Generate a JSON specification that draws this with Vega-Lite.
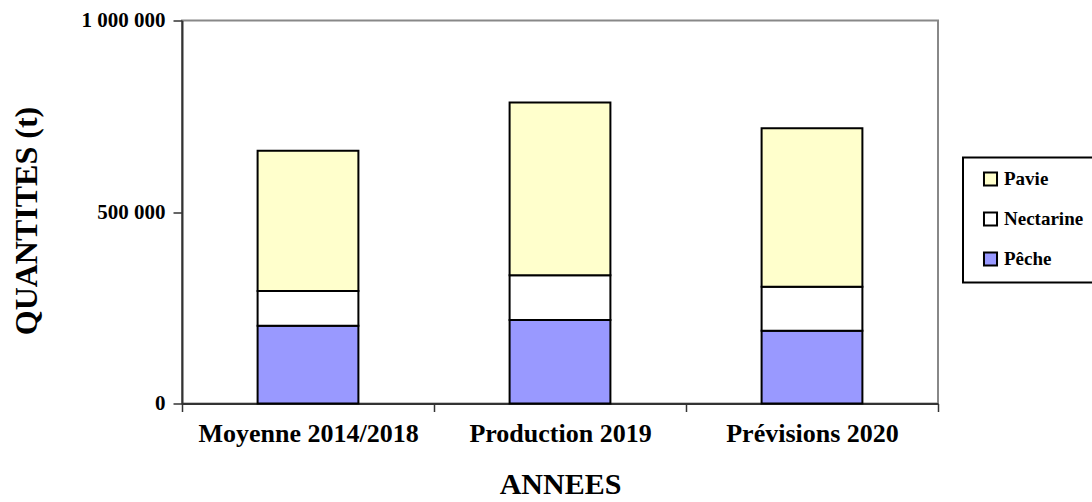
{
  "$schema": "https://vega.github.io/schema/vega-lite/v6.json",
  "width": 756,
  "height": 383,
  "autosize": "none",
  "padding": {"left": 182, "top": 20.5, "right": 154, "bottom": 98},
  "background": "white",
  "data": {
    "values": [
      {"annee": "Moyenne 2014/2018", "fruit": "Pêche", "quantite": 203000},
      {"annee": "Moyenne 2014/2018", "fruit": "Nectarine", "quantite": 90500},
      {"annee": "Moyenne 2014/2018", "fruit": "Pavie", "quantite": 366700},
      {"annee": "Production 2019", "fruit": "Pêche", "quantite": 217700},
      {"annee": "Production 2019", "fruit": "Nectarine", "quantite": 116900},
      {"annee": "Production 2019", "fruit": "Pavie", "quantite": 451100},
      {"annee": "Prévisions 2020", "fruit": "Pêche", "quantite": 189800},
      {"annee": "Prévisions 2020", "fruit": "Nectarine", "quantite": 115000},
      {"annee": "Prévisions 2020", "fruit": "Pavie", "quantite": 414000}
    ]
  },
  "transform": [
    {"calculate": "indexof(['Pêche','Nectarine','Pavie'], datum.fruit)", "as": "rang"}
  ],
  "mark": {"type": "bar", "width": {"band": 0.4}, "stroke": "black", "strokeWidth": 2},
  "encoding": {
    "x": {
      "field": "annee",
      "type": "nominal",
      "sort": ["Moyenne 2014/2018", "Production 2019", "Prévisions 2020"],
      "scale": {"paddingInner": 0, "paddingOuter": 0},
      "axis": {
        "title": "ANNEES",
        "labelAngle": 0,
        "tickBand": "extent",
        "tickSize": 8,
        "tickColor": "#333",
        "tickWidth": 1.5,
        "domainColor": "#333",
        "domainWidth": 2,
        "labelFont": "Liberation Serif",
        "labelFontWeight": "bold",
        "labelFontSize": 26,
        "labelColor": "black",
        "labelPadding": 9,
        "labelLimit": 400,
        "titleFont": "Liberation Serif",
        "titleFontWeight": "bold",
        "titleFontSize": 30,
        "titleColor": "black",
        "titlePadding": 23
      }
    },
    "y": {
      "field": "quantite",
      "type": "quantitative",
      "stack": "zero",
      "scale": {"domain": [0, 1000000], "nice": false},
      "axis": {
        "title": "QUANTITES (t)",
        "titleY": 200,
        "values": [0, 500000, 1000000],
        "labelExpr": "replace(format(datum.value, ','), regexp(',', 'g'), ' ')",
        "grid": false,
        "tickSize": 9,
        "tickColor": "#333",
        "tickWidth": 1.5,
        "domainColor": "#333",
        "domainWidth": 2,
        "labelFont": "Liberation Serif",
        "labelFontWeight": "bold",
        "labelFontSize": 21,
        "labelColor": "black",
        "labelPadding": 8,
        "titleFont": "Liberation Serif",
        "titleFontWeight": "bold",
        "titleFontSize": 32,
        "titleColor": "black",
        "titlePadding": 38
      }
    },
    "color": {
      "field": "fruit",
      "type": "nominal",
      "scale": {"domain": ["Pavie", "Nectarine", "Pêche"], "range": ["#FFFFCC", "#FFFFFF", "#9999FF"]},
      "legend": {
        "title": null,
        "orient": "none",
        "legendX": 781,
        "legendY": 137,
        "padding": 12,
        "rowPadding": 17,
        "strokeColor": "black",
        "symbolType": "square",
        "symbolSize": 170,
        "symbolOffset": 6,
        "symbolStrokeColor": "black",
        "symbolStrokeWidth": 2,
        "symbolOpacity": 1,
        "labelFont": "Liberation Serif",
        "labelFontWeight": "bold",
        "labelFontSize": 19,
        "labelColor": "black",
        "labelOffset": 4,
        "labelLimit": 200,
        "encode": {"legend": {"update": {"strokeWidth": {"value": 2}}}}
      }
    },
    "order": {"field": "rang", "type": "quantitative"}
  },
  "config": {
    "view": {"stroke": "#888", "strokeWidth": 2},
    "font": "Liberation Serif",
    "legend": {"labelFont": "Liberation Serif"}
  }
}
